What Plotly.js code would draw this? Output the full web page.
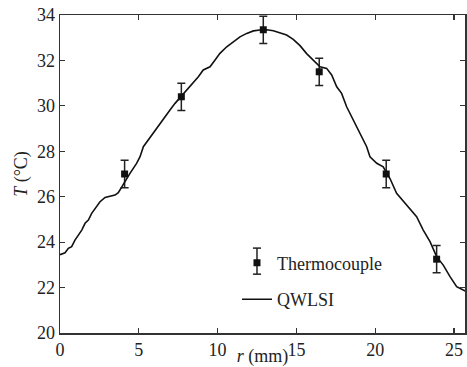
<!DOCTYPE html>
<html><head><meta charset="utf-8">
<script src="https://cdn.plot.ly/plotly-3.0.1.min.js"></script>
<style>html,body{margin:0;padding:0;background:#fff;}#chart{width:467px;height:367px;}</style>
</head><body><div id="chart"></div>
<script>
// QWLSI profile (traced)
const qwlsiR = [0,0.32,0.53,0.74,0.95,1.16,1.38,1.59,1.80,2.01,2.22,2.54,2.86,3.17,3.49,3.70,3.91,4.12,4.44,4.86,5.08,5.29,5.60,5.82,6.03,6.35,6.66,6.98,7.30,7.68,8.04,8.46,8.78,9.09,9.52,9.84,10.15,10.58,11.00,11.42,11.85,12.27,12.69,13.12,13.54,13.96,14.38,14.80,15.23,15.65,16.07,16.50,16.92,17.24,17.56,17.87,18.19,18.61,19.04,19.46,19.67,20.10,20.51,20.94,21.36,21.99,22.63,23.05,23.48,23.90,24.32,24.75,25.17,25.59,25.80];
const qwlsiT = [23.45,23.53,23.73,23.80,24.09,24.31,24.53,24.83,24.97,25.27,25.49,25.78,25.97,26.03,26.07,26.18,26.44,26.70,27.03,27.47,27.76,28.20,28.50,28.72,28.94,29.20,29.52,29.82,30.11,30.40,30.70,30.99,31.28,31.58,31.72,32.02,32.31,32.60,32.82,33.04,33.19,33.30,33.34,33.35,33.31,33.22,33.12,32.93,32.65,32.30,32.02,31.72,31.65,31.36,30.84,30.55,29.96,29.38,28.79,28.20,27.76,27.47,27.32,26.80,26.15,25.63,25.12,24.53,24.02,23.36,22.99,22.48,22.04,21.89,21.82];
// Thermocouple measurements
const tcR = [4.1,7.7,12.9,16.45,20.7,23.9];
const tcT = [27.0,30.4,33.35,31.5,27.0,23.25];
const tcErr = [0.6,0.6,0.6,0.6,0.6,0.6];
const xTicks = [0,5,10,15,20,25];
const yTicks = [20,22,24,26,28,30,32,34];

const font = {family:'Liberation Serif, DejaVu Serif, Times New Roman, serif', size:18, color:'#222'};
const traces = [
  {x:tcR, y:tcT, type:'scatter', mode:'markers', name:'Thermocouple', legendgroup:'a',
   marker:{symbol:'square', size:7, color:'#111'},
   error_y:{type:'data', array:tcErr, visible:true, color:'#222', thickness:1.5, width:4}},
  {x:qwlsiR, y:qwlsiT, type:'scatter', mode:'lines', name:'QWLSI', legendgroup:'b',
   line:{color:'#111', width:1.6}}
];
const axisCommon = {showgrid:false, zeroline:false, showline:true, linecolor:'#333', linewidth:1.5,
  ticks:'inside', ticklen:5, tickwidth:1.2, tickcolor:'#333', mirror:'allticks', tickfont:font};
// legend error-bar glyph (decoration for the legend entry, in paper units)
const lgX = 0.4864, lgY0 = 0.185, lgY1 = 0.267, lgCap = 0.01;
const layout = {
  width:467, height:367, margin:{l:60, r:2, t:15, b:34},
  paper_bgcolor:'#fff', plot_bgcolor:'#fff', font:font,
  xaxis:Object.assign({}, axisCommon, {range:[0,25.7], tickvals:xTicks,
    title:{text:'<i>r</i> (mm)', font:font, standoff:0}}),
  yaxis:Object.assign({}, axisCommon, {range:[20,34], tickvals:yTicks,
    title:{text:'<i>T</i> (°C)', font:font, standoff:4}}),
  showlegend:true,
  legend:{x:0.437, y:0.278, xanchor:'left', yanchor:'top', bgcolor:'rgba(0,0,0,0)',
    font:font, tracegroupgap:10, traceorder:'grouped'},
  shapes:[
    {type:'line', xref:'paper', yref:'paper', x0:lgX, x1:lgX, y0:lgY0, y1:lgY1, line:{color:'#222', width:1.5}},
    {type:'line', xref:'paper', yref:'paper', x0:lgX-lgCap, x1:lgX+lgCap, y0:lgY0, y1:lgY0, line:{color:'#222', width:1.5}},
    {type:'line', xref:'paper', yref:'paper', x0:lgX-lgCap, x1:lgX+lgCap, y0:lgY1, y1:lgY1, line:{color:'#222', width:1.5}}
  ]
};
Plotly.newPlot('chart', traces, layout, {displayModeBar:false, staticPlot:true});
</script></body></html>
